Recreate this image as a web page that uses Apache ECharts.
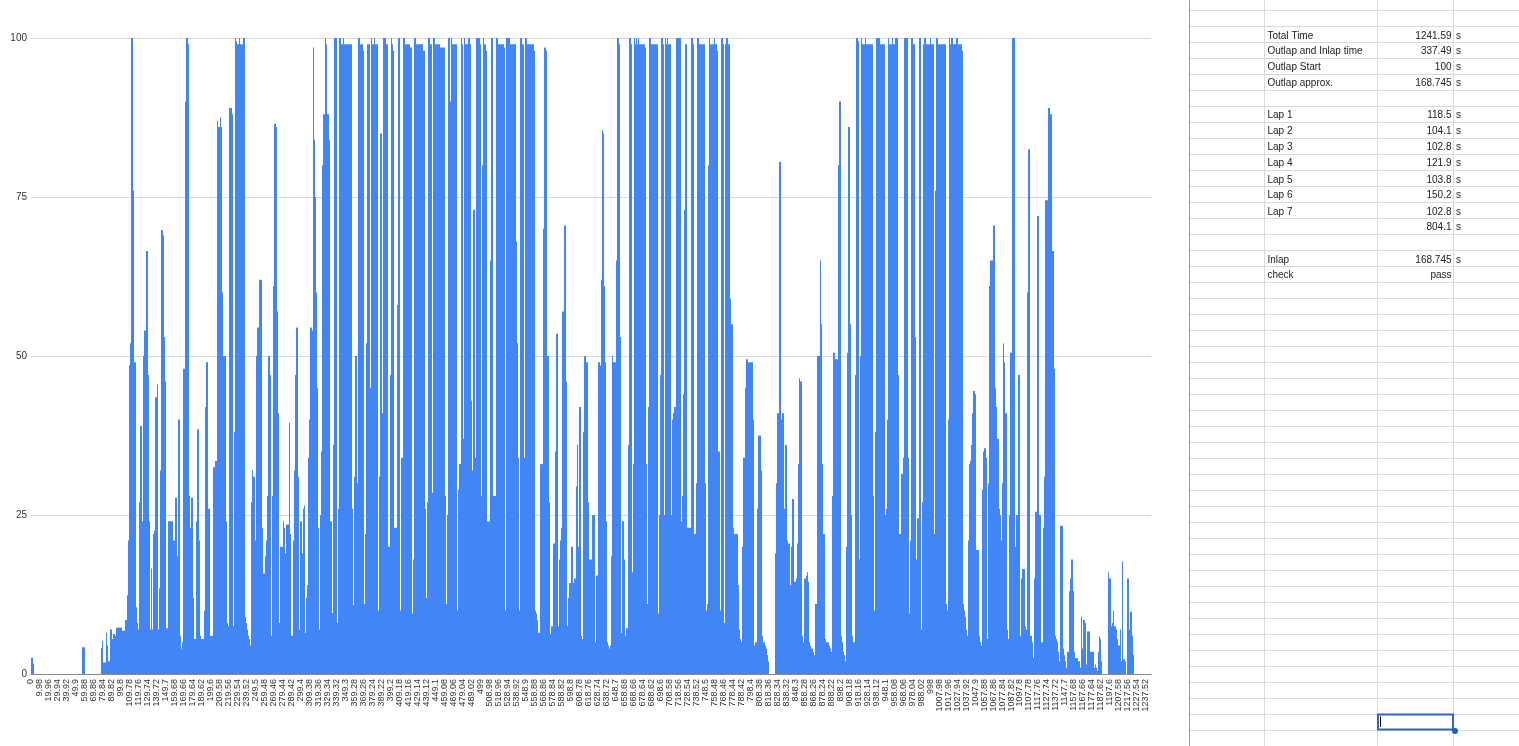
<!DOCTYPE html>
<html><head><meta charset="utf-8">
<script src="https://cdn.jsdelivr.net/npm/echarts@6/dist/echarts.min.js"></script>
<style>html,body{margin:0;padding:0;background:#fff}#c{width:1519px;height:746px}</style>
</head><body><div id="c"></div>
<script>
// Telemetry channel: [sample number, value held from that sample on]
const sampleSeconds = 1.11, firstSample = 31, lastSample = 1151;
const outlapRuns = [[31,2.5],[33,1.6],[34,0],[82,4.2],[85,0],[101,4.1],[102,5.2],[103,1.8],[106,6.5],[107,4.5],[108,2],[110,7],[112,5.5],[113,6.3],[115,6],[116,7.3],[122,6.8],[125,8.5],[127,12.4],[128,21],[129,48.5],[130,52],[131,100],[133,76],[134,49],[136,10.5],[137,8],[138,7],[139,27],[140,39],[142,24],[143,50],[144,54],[146,66.5],[148,47],[149,24],[150,7],[151,16.6],[152,7],[153,22],[154,22.5],[155,43.5],[157,45.5],[158,7],[159,13.5],[160,32],[161,69.8],[163,69],[164,53],[165,46],[166,7.2],[168,24],[173,21],[175,27.7],[177,18.5],[178,40],[180,6],[181,4],[182,5],[183,48],[185,90],[186,100],[188,99],[189,28],[190,23],
[191,27.7],[193,12],[194,5.5],[196,24],[197,38.5],[199,21],[200,6],[201,5.5],[204,10],[205,42],[206,49],[208,26],[210,6],[213,32.5],[215,33.5],[217,87],[218,86],[220,87.5],[221,86],[222,60],[223,50],[226,24],[227,8],[228,7.5],[229,89],[232,88],[233,7.5],[234,38],[235,100],[236,99.5],[237,99],[239,100],[240,99],[243,100],[245,9],[246,8],[247,7],[248,6],[249,5.5],[250,4.5],[251,27],[252,32],[253,31],[255,21],[256,50],[257,54.5],[259,62],[262,23],[263,15.8],[265,18.5],[266,21],[267,28],[268,50],[270,47],[271,6],[272,28],[273,61],[274,86.5],[276,86],[277,57],[278,41],[279,8],[280,20],[283,24],[284,23],[285,19],[286,23.5],[289,39.5],[290,22],[291,6],[293,21],[294,32],[295,47],[296,54.5],[298,31],[299,7],[300,24],[302,19],[303,26],[304,26.5],[305,6.5],[306,12],[307,14],[308,34],[309,40],[310,54.5],[312,54],[313,98.5],[314,84],[315,75],[316,60],[317,45],[318,23],[319,7],[320,25],[321,35],[322,80],[323,88],[325,100],[326,99],[327,88],[329,84],[330,24],[332,9.6],[333,36],[334,100],[337,8],[338,26],[339,100],[341,99],[343,100],[344,99]];
const lapOneTwoRuns = [[352,26],[353,10.8],[354,31],[355,50],[357,30],[358,100],[360,99],[363,98],[364,11],[365,22],[366,52],[367,99],[370,45],[371,100],[372,99],[374,100],[375,99],[378,10],[379,31],[380,85],[382,41],[383,100],[386,99],[388,20],[390,47],[391,100],[392,99],[393,98],[394,23],[397,58],[398,100],[400,10],[401,34],[403,100],[405,99],[410,98.5],[412,9.5],[413,18],[414,100],[416,99],[423,98],[425,26],[426,12],[427,27],[428,100],[430,99],[432,28.5],[433,100],[435,99],[440,98.5],[445,28],[446,11],[447,25],[448,100],[450,90],[451,100],[452,99],[457,10],[458,29],[459,33],[461,100],[462,99],[463,37],[464,100],[465,99],[468,100],[470,99],[471,43],[472,32],[473,73],[475,34],[476,100],[480,99],[481,28],[482,80],[483,100],[484,99],[486,98],[487,24],[490,65],[491,100],[493,28],[496,100],[498,99],[504,98.5],[505,10],[506,100],[510,99],[516,68],[517,52],[518,34],[519,10],[520,100],[522,99],[524,34],[525,100],[527,99],[534,98],[535,10],[536,9.5],[537,8.5],[538,6.5],[540,33],[543,70],[544,98.5],[546,98],[547,50],[549,27],[550,6.3]];
const lapThreeRuns = [[551,7.5],[553,20.5],[555,35],[556,53.5],[558,7.5],[559,18],[560,21],[561,23],[562,57],[564,70.5],[566,46],[567,7.5],[568,12],[569,14.3],[571,20],[573,14.3],[574,15],[576,29.5],[577,36],[578,20],[579,42],[581,6],[582,5.5],[583,38],[584,50],[586,49],[588,27],[589,18],[592,25],[595,5],[596,15.5],[598,49],[600,48.5],[601,62],[602,85.5],[603,85],[604,61],[605,49],[606,24],[607,5],[608,4.5],[609,4],[610,4.5],[611,18.5],[612,50],[613,49],[616,65],[617,100],[619,99],[620,53],[621,6.5],[622,24],[624,18],[625,6],[626,7.2],[628,36],[629,100],[631,99],[632,16],[633,33],[634,100],[635,99],[636,100],[637,99],[638,100],[639,99],[645,98.5],[646,33],[647,11],[648,42],[649,100],[651,99],[658,9.5],[659,25],[660,47],[661,100],[663,99],[664,25],[665,100],[666,99],[667,100],[668,99],[671,25],[672,40],[673,41],[674,42],[676,100],[681,24],[682,28],[683,44],[684,73],[685,99],[687,23],[691,100],[693,99],[694,22],[696,30],[697,100],[699,99],[705,30],[706,10],[707,11],[708,80],[709,100],[710,99],[714,100],[715,99],[717,98],[718,35],[720,10],[721,100],[723,99],[724,8],[725,99],[726,100],[728,99],[730,59],[731,55],[733,23],[734,22],[738,14],[739,7]];
const lapFourFiveRuns = [[740,5.5],[741,5],[742,20],[743,34],[745,45],[746,49.5],[748,49],[753,40],[754,4.5],[755,5],[757,26],[758,37.5],[761,32],[762,6],[763,5],[765,4.5],[766,4],[767,3],[768,2],[769,0],[775,19],[776,30],[777,41],[779,80.5],[781,40],[782,41],[784,26],[785,36],[787,21],[788,20.5],[790,14],[791,20],[792,27.5],[794,14.5],[796,15],[797,20.5],[798,33],[799,46.5],[800,46],[802,6],[803,5],[804,15],[806,15.5],[807,16],[808,14.5],[809,5],[810,4.5],[811,4],[813,3.5],[814,3],[815,11],[817,50],[820,65],[821,55],[822,33],[823,22],[825,5.5],[826,5],[829,4.5],[830,4],[831,3.5],[832,28],[833,50.5],[835,49.5],[838,80],[839,90],[841,6],[842,5],[843,3.5],[844,3],[845,2],[846,20],[847,50.5],[848,86],[850,55],[851,25],[852,6],[853,5],[855,47],[856,100],[858,99.5],[859,18],[860,50],[861,100],[862,99],[865,100],[866,99],[873,28],[874,10],[875,38],[876,100],[880,99],[885,25],[886,26],[887,40],[888,100],[889,99],[892,100],[893,99],[895,100],[898,47],[899,22],[901,31.5],[903,34],[904,100],[908,34],[909,9.5],[910,21],[911,100],[913,99],[915,53],[916,18],[917,24.5],[919,100],[921,7],[922,27],[923,99],[924,100],[926,99],[930,100],[931,99],[934,22],[935,76],[936,100],[938,99],[946,11],[947,10],[948,40],[949,100],[950,99],[951,100],[953,99],[956,100],[958,99],[962,98],[963,11],[964,10],[965,9],[966,7],[967,6]];
const inlapRuns = [[968,21],[969,33],[970,33.5],[971,36],[972,41],[973,44.5],[975,44],[976,19.5],[979,6],[980,5],[981,4.5],[982,29],[983,35],[984,35.5],[986,34],[987,5.5],[988,30],[989,61],[990,65],[993,70.5],[995,45],[996,42],[997,37],[999,26],[1000,25],[1001,21],[1002,30],[1003,52],[1004,49],[1005,41],[1007,7],[1008,5.5],[1009,25],[1010,50.5],[1012,100],[1015,20],[1016,25],[1018,47],[1020,6],[1021,15],[1022,16.5],[1025,7.5],[1026,7],[1027,60],[1028,82.5],[1030,6],[1032,5],[1033,2.5],[1034,15],[1035,25.5],[1037,72],[1039,25],[1041,5],[1043,23],[1044,31],[1045,74.5],[1048,89],[1050,88],[1052,66.5],[1054,48],[1055,6],[1056,5.5],[1057,5],[1058,3.5],[1059,2],[1060,23.3],[1063,4],[1064,3],[1065,2],[1066,1],[1067,3.5],[1069,13],[1070,15],[1071,18],[1073,13],[1074,3.5],[1075,2.5],[1078,2],[1080,1],[1081,9],[1082,4],[1083,8.5],[1085,8],[1086,1.5],[1087,6.7],[1090,3.5],[1094,1],[1095,1.5],[1096,1],[1097,0.5],[1098,3.5],[1099,5.9],[1100,5.5],[1101,2],[1102,0],[1108,16],[1109,15],[1111,7.5],[1112,8],[1113,10],[1114,7.5],[1116,7],[1117,5.5],[1118,4.5],[1120,7],[1121,2],[1122,17.7],[1123,2.3],[1125,2],[1126,0],[1127,15],[1129,7],[1130,9.8],[1132,6],[1133,3],[1134,0],[1151,0]];

const sheetLabels = ["Total Time","Outlap and Inlap time","Outlap Start","Outlap approx.","","Lap 1","Lap 2","Lap 3","Lap 4","Lap 5","Lap 6","Lap 7","","","Inlap","check"];
const sheetValues = ["1241.59","337.49","100","168.745","","118.5","104.1","102.8","121.9","103.8","150.2","102.8","804.1","","168.745","pass"];
const sheetUnits  = ["s","s","s","s","","s","s","s","s","s","s","s","s","","s",""];

const allRuns = [...outlapRuns, ...lapOneTwoRuns, ...lapThreeRuns, ...lapFourFiveRuns, ...inlapRuns];
// each run holds its value until the next run starts
const seriesData = allRuns.slice(0, -1).map(([n, v], i) =>
  [(n - firstSample) * sampleSeconds, (allRuns[i + 1][0] - firstSample) * sampleSeconds, v]);

// spreadsheet panel
const FONT = '"Liberation Sans", Arial, sans-serif';
const textCentre = [36,51,67.5,83,98.5,115,131,147,163,180,195,212,227,243,260,275];
const g = [];
const line = (x1,y1,x2,y2,color,w) => g.push({type:'line',silent:true,shape:{x1,y1,x2,y2},style:{stroke:color,lineWidth:w||1}});
for (let k = 0; 10.5 + 16*k < 746; k++) { const y = 10.5 + 16*k; line(1190,y,1519,y,'#dadada'); }
[1264.5,1377.5,1453.5].forEach(x => line(x,0,x,746,'#dadada'));
line(1189.5,0,1189.5,746,'#9a9a9a');
const label = (x,y,text,align) => g.push({type:'text',silent:true,x,y,style:{text,fill:'#222',font:'10px '+FONT,textAlign:align,textVerticalAlign:'middle'}});
sheetLabels.forEach((t,i) => { if (t) label(1267.5,textCentre[i],t,'left'); });
sheetValues.forEach((t,i) => { if (t) label(1451.5,textCentre[i],t,'right'); });
sheetUnits.forEach((t,i) => { if (t) label(1456,textCentre[i],t,'left'); });
g.push({type:'rect',silent:true,shape:{x:1378,y:714.5,width:75,height:15},style:{fill:'#fff',stroke:'#2a66c9',lineWidth:2}});
line(1380.5,716.5,1380.5,727,'#000');
g.push({type:'circle',silent:true,shape:{cx:1455,cy:731,r:3},style:{fill:'#1a5fc4'}});

const chart = echarts.init(document.getElementById('c'), null, {renderer:'canvas'});
chart.setOption({
  animation:false,
  backgroundColor:'#fff',
  grid:{left:31,top:38,width:1120,height:636,containLabel:false},
  xAxis:{type:'value',min:0,max:(lastSample-firstSample)*sampleSeconds,interval:9.98,
    axisLine:{show:true,onZero:false,lineStyle:{color:'#8a8a8a',width:1}},axisTick:{show:false},splitLine:{show:false},
    axisLabel:{rotate:90,margin:5,fontSize:9,fontFamily:FONT,color:'#333',showMinLabel:true,showMaxLabel:false,hideOverlap:false,
      formatter:v=>String(+v.toFixed(2))}},
  yAxis:{type:'value',min:0,max:100,interval:25,
    axisLine:{show:false},axisTick:{show:false},
    splitLine:{lineStyle:{color:'#d9d9d9',width:1}},
    axisLabel:{margin:4,fontSize:10,fontFamily:FONT,color:'#333'}},
  series:[{type:'custom',coordinateSystem:'cartesian2d',clip:true,silent:true,
    encode:{x:[0,1],y:2},
    renderItem:(params,api)=>{
      const a = api.coord([api.value(0), api.value(2)]);
      const b = api.coord([api.value(1), 0]);
      return {type:'rect',shape:{x:a[0],y:a[1],width:b[0]-a[0],height:b[1]-a[1]},
        style:{fill:'#4285f4',stroke:null}};
    },
    data:seriesData}],
  graphic:g
});
</script></body></html>
